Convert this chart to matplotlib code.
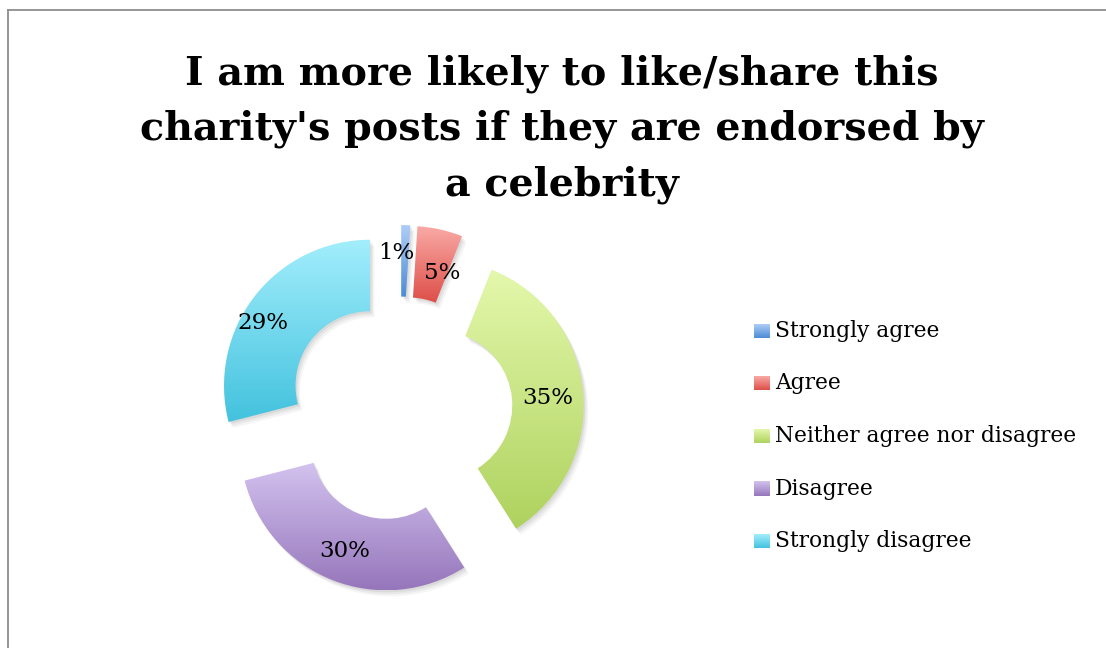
import matplotlib
matplotlib.use('Agg')
import matplotlib.pyplot as plt
import numpy as np
from matplotlib.colors import LinearSegmentedColormap
from matplotlib.patches import Wedge

TITLE = "I am more likely to like/share this\ncharity's posts if they are endorsed by\na celebrity"
CATEGORIES = ["Strongly agree", "Agree", "Neither agree nor disagree", "Disagree", "Strongly disagree"]
PERCENTS = [1, 5, 35, 30, 29]
# (top, bottom) gradient colours of each slice
COLORS_TOP = ["#aecdf7", "#f9aaa6", "#e4f8ac", "#d3c3ef", "#a3eefc"]
COLORS_BOTTOM = ["#4c8bd6", "#de4e48", "#aed25e", "#9676bb", "#43c2de"]
# small nudges of the percent labels, in pixels (x right, y up)
LABEL_NUDGE = [(-8, 6), (9, -11), (-2, -3), (0, -2), (-18, -6)]

W, H = 1106, 648
R = 146.0  # outer radius in pixels

fig = plt.figure(figsize=(W / 100, H / 100), dpi=100)
ax = fig.add_axes([0, 0, 1, 1])
ax.set_xlim(0, W / R)
ax.set_ylim(0, H / R)
ax.set_aspect('equal')
ax.axis('off')

center = (400 / R, (H - 409) / R)
wedges, texts, autotexts = ax.pie(
    PERCENTS, radius=1, center=center, startangle=90, counterclock=False,
    explode=[0.26] * len(PERCENTS), autopct='%1.0f%%', pctdistance=0.77,
    wedgeprops=dict(width=0.49, linewidth=0, alpha=0),
    textprops=dict(family='DejaVu Serif', fontsize=16.5, color='black'))

# soft shadow below the slices
for w in wedges:
    for k, a in [(1, 0.06), (2, 0.05), (3, 0.04)]:
        sh = Wedge((w.center[0] + 1.5 * k / R, w.center[1] - 2 * k / R), w.r,
                   w.theta1, w.theta2, width=w.width, facecolor='black',
                   edgecolor='none', alpha=a, zorder=0.5)
        ax.add_patch(sh)

# vertical gradient inside each wedge
grad = np.linspace(0, 1, 256).reshape(-1, 1)
for w, ctop, cbot in zip(wedges, COLORS_TOP, COLORS_BOTTOM):
    cmap = LinearSegmentedColormap.from_list('g', [ctop, cbot])
    bb = w.get_path().get_extents()
    im = ax.imshow(grad, cmap=cmap, aspect='auto', origin='upper',
                   extent=[bb.x0, bb.x1, bb.y0, bb.y1], zorder=1)
    w.set_alpha(1)
    w.set_facecolor('none')
    im.set_clip_path(w)

for t, (dx, dy) in zip(autotexts, LABEL_NUDGE):
    x, y = t.get_position()
    t.set_position((x + dx / R, y + dy / R))
    t.set_zorder(3)

fig.text(562 / W, 1 - 129 / H, TITLE, ha='center', va='center',
         family='DejaVu Serif', fontweight='bold', fontsize=28.5, linespacing=1.56)

# legend
leg_y = [331, 383, 436, 489, 541]
for name, ctop, cbot, y in zip(CATEGORIES, COLORS_TOP, COLORS_BOTTOM, leg_y):
    cmap = LinearSegmentedColormap.from_list('g', [ctop, cbot])
    ax.imshow(grad, cmap=cmap, aspect='auto', origin='upper',
              extent=[754 / R, 769 / R, (H - y - 7) / R, (H - y + 7) / R], zorder=2)
    ax.text(775 / R, (H - y) / R, name, ha='left', va='center',
            family='DejaVu Serif', fontsize=15.7)

ax.set_xlim(0, W / R)
ax.set_ylim(0, H / R)

# chart frame
fig.add_artist(plt.Line2D([7.5 / W, 1], [1 - 9.5 / H, 1 - 9.5 / H], color='#8e8e8e', lw=1.3))
fig.add_artist(plt.Line2D([7.5 / W, 7.5 / W], [0, 1 - 9.5 / H], color='#8e8e8e', lw=1.3))

fig.savefig('out.png', dpi=100)
